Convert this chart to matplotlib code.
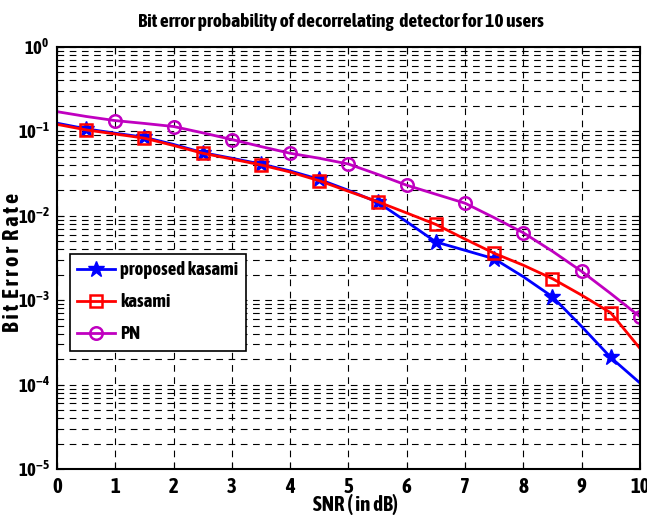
import math
import matplotlib.pyplot as plt
from matplotlib import font_manager
from matplotlib.ticker import LogLocator, FixedLocator, FuncFormatter

# look for a narrow / condensed bold face, else plain Liberation Sans
def weight_num(w):
    if isinstance(w, (int, float)):
        return w
    return font_manager.weight_dict.get(w, 400)

cands = [f for f in font_manager.fontManager.ttflist
         if ('Narrow' in f.name or 'Condensed' in f.name) and weight_num(f.weight) >= 600
         and f.style == 'normal']
if cands:
    main_font = sorted(cands, key=lambda f: f.name)[0].name
    scale = 1.0
else:
    main_font = 'Liberation Sans'
    scale = 0.82
plt.rcParams['font.family'] = [main_font, 'DejaVu Sans']
plt.rcParams['font.weight'] = 'bold'
plt.rcParams['mathtext.fontset'] = 'custom'
plt.rcParams['mathtext.rm'] = main_font + ':bold'
plt.rcParams['mathtext.bf'] = main_font + ':bold'
plt.rcParams['mathtext.it'] = main_font + ':bold'

snr_db = [0, 0.5, 1, 1.5, 2, 2.5, 3, 3.5, 4, 4.5, 5,
          5.5, 6, 6.5, 7, 7.5, 8, 8.5, 9, 9.5, 10]

ber_proposed_kasami = [0.125, 0.107, 0.095, 0.085, 0.070, 0.056, 0.048, 0.041, 0.034, 0.027, 0.020,
                       0.0145, 0.0085, 0.0049, 0.0039, 0.0031, 0.0019, 0.0011, 0.00049, 0.00021, 0.000105]
ber_kasami = [0.121, 0.104, 0.093, 0.083, 0.068, 0.055, 0.047, 0.040, 0.033, 0.026, 0.0195,
              0.0147, 0.0108, 0.0079, 0.0053, 0.0036, 0.0026, 0.0018, 0.00115, 0.00071, 0.00027]
ber_pn = [0.171, 0.150, 0.134, 0.124, 0.114, 0.096, 0.080, 0.066, 0.055, 0.048, 0.041,
          0.031, 0.023, 0.018, 0.0141, 0.0095, 0.0063, 0.0038, 0.0022, 0.0012, 0.00064]

x_ticks = [0, 1, 2, 3, 4, 5, 6, 7, 8, 9, 10]


def pow10_label(v, pos):
    e = int(round(math.log10(v)))
    return r'$\mathrm{10^{%d}}$' % e


fig = plt.figure(figsize=(6.47, 5.15), dpi=100)
ax = fig.add_axes([0.088, 0.089, 0.901, 0.82])

ax.semilogy(snr_db, ber_proposed_kasami, '-*', color='#0000ff', lw=2, ms=12,
            markevery=slice(1, None, 2), label='proposed kasami')
ax.semilogy(snr_db, ber_kasami, '-s', color='#ff0000', lw=2, ms=9, mfc='none', mew=1.8,
            markevery=slice(1, None, 2), label='kasami')
ax.semilogy(snr_db, ber_pn, '-o', color='#c000c0', lw=2, ms=9, mfc='none', mew=1.8,
            markevery=slice(2, None, 2), label='PN')

ax.set_xlim(0, 10)
ax.set_ylim(1e-5, 1)
ax.xaxis.set_major_locator(FixedLocator(x_ticks))
ax.yaxis.set_major_locator(LogLocator(base=10, numticks=10))
ax.yaxis.set_major_formatter(FuncFormatter(pow10_label))
ax.yaxis.set_minor_locator(LogLocator(base=10, subs=range(2, 10), numticks=10))
ax.tick_params(which='both', direction='in', top=True, right=True)
ax.tick_params(which='major', labelsize=15 * scale, length=5, pad=6)
ax.tick_params(axis='y', which='major', labelsize=13.5 * scale, pad=5)
ax.tick_params(which='minor', length=3)
for lab in ax.get_xticklabels() + ax.get_yticklabels():
    lab.set_fontweight('bold')

ax.grid(True, which='major', linestyle=(0, (6, 5)), color='black', lw=0.8)
ax.grid(True, which='minor', axis='y', linestyle=(0, (6, 5)), color='black', lw=0.8)
for s in ax.spines.values():
    s.set_linewidth(1.5)

ax.set_title('Bit error probability of decorrelating  detector for 10 users',
             fontsize=14 * scale, fontweight='bold', pad=14, x=0.487)
ax.set_xlabel('SNR ( in dB)', fontsize=15 * scale, fontweight='bold')
ax.xaxis.set_label_coords(0.513, -0.058)
ax.set_ylabel('B i t  E r r o r  R a t e', fontsize=16 * scale, fontweight='bold')
ax.yaxis.set_label_coords(-0.056, 0.49)

leg = ax.legend(loc='lower left', bbox_to_anchor=(0.022, 0.28), fontsize=15 * scale * 0.9,
                fancybox=False, edgecolor='black', framealpha=1, borderpad=0.4,
                handlelength=2.0, handletextpad=0.3, labelspacing=0.75, borderaxespad=0)
leg.get_frame().set_linewidth(1.2)
for t in leg.get_texts():
    t.set_fontweight('bold')

fig.savefig('out.png', dpi=100)
